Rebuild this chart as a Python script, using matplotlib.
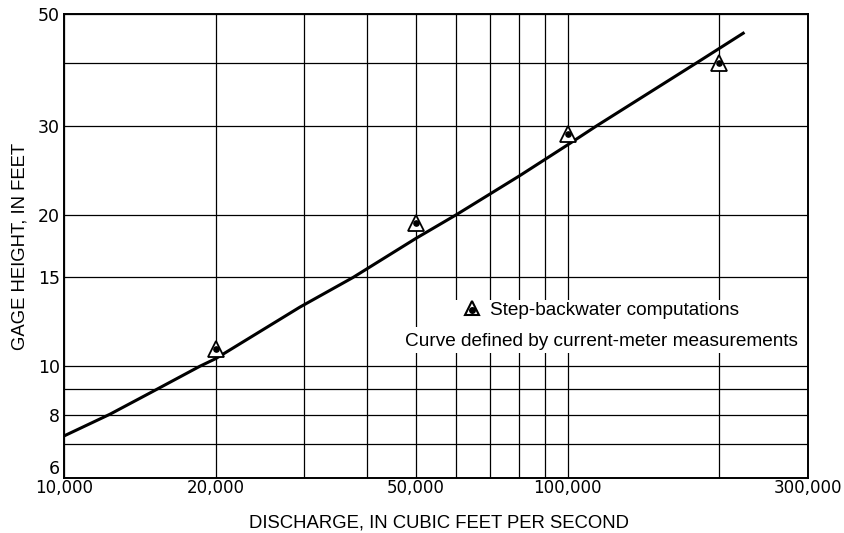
import matplotlib.pyplot as plt
import matplotlib.ticker as mticker
from matplotlib.patches import Rectangle

plt.rcParams["font.family"] = ["Liberation Sans", "DejaVu Sans"]

# Rating curve defined by current-meter measurements (discharge, gage height).
curve_q = [10000, 12340, 15040, 18620, 20000, 29400, 37480, 50000,
           60200, 80400, 100000, 114200, 180300, 223100]
curve_h = [7.27, 8.03, 8.92, 10.0, 10.35, 13.1, 15.0, 17.94,
           20.0, 23.9, 27.5, 30.0, 40.0, 45.8]

# Step-backwater computed points.
step_q = [20000, 50000, 100000, 200000]
step_h = [10.8, 19.26, 28.9, 39.9]

x_ticks = [10000, 20000, 50000, 100000, 300000]
x_tick_labels = ["10,000", "20,000", "50,000", "100,000", "300,000"]
x_grid = [30000, 40000, 60000, 70000, 80000, 90000, 200000]
y_ticks = [6, 8, 10, 15, 20, 30, 50]
y_tick_labels = ["6", "8", "10", "15", "20", "30", "50"]
y_grid = [7, 9, 40]

fig = plt.figure(figsize=(8.45, 5.33), dpi=100)
ax = fig.add_axes([0.0757, 0.1032, 0.8805, 0.8705])
ax.set_xscale("log")
ax.set_yscale("log")
ax.set_xlim(10000, 300000)
ax.set_ylim(6, 50)

ax.set_xticks(x_ticks)
ax.set_xticklabels(x_tick_labels, family="DejaVu Sans", fontsize=12)
ax.set_xticks(x_grid, minor=True)
ax.xaxis.set_minor_formatter(mticker.NullFormatter())
ax.set_yticks(y_ticks)
ax.set_yticklabels(y_tick_labels, family="DejaVu Sans", fontsize=12.5)
ax.set_yticks(y_grid, minor=True)
ax.yaxis.set_minor_formatter(mticker.NullFormatter())
ax.tick_params(which="both", length=0)
ax.tick_params(axis="x", pad=1)
ax.tick_params(axis="y", pad=3)
# keep the bottom "6" clear of the "10,000" label
ax.get_yticklabels()[0].set_va("bottom")
ax.grid(which="both", color="black", linewidth=0.9)
for s in ax.spines.values():
    s.set_linewidth(1.4)
    s.set_zorder(6)

ax.plot(curve_q, curve_h, color="black", linewidth=2.2, zorder=3)
ax.plot(step_q, step_h, linestyle="none", marker="^", markersize=11,
        markerfacecolor="white", markeredgecolor="black", markeredgewidth=1.3, zorder=4)
ax.plot(step_q, step_h, linestyle="none", marker="o", markersize=3.8,
        color="black", zorder=5)

# Explanation block: white patches knock the grid out behind the two lines
ax.add_patch(Rectangle((0.503, 0.3254), 0.497, 0.0582, transform=ax.transAxes,
                       facecolor="white", edgecolor="none", zorder=2))
ax.add_patch(Rectangle((0.449, 0.2694), 0.551, 0.0560, transform=ax.transAxes,
                       facecolor="white", edgecolor="none", zorder=2))
ax.text(0.5726, 0.362, "Step-backwater computations", transform=ax.transAxes,
        fontsize=13.7, va="center", ha="left", zorder=6)
ax.text(0.4583, 0.294, "Curve defined by current-meter measurements",
        transform=ax.transAxes, fontsize=13.7, va="center", ha="left", zorder=6)
ax.plot([0.549], [0.366], transform=ax.transAxes, marker="^", markersize=10.5,
        markerfacecolor="white", markeredgecolor="black", markeredgewidth=1.5,
        linestyle="none", zorder=7)
ax.plot([0.549], [0.362], transform=ax.transAxes, marker="o", markersize=4,
        color="black", linestyle="none", zorder=8)

ax.set_xlabel("DISCHARGE, IN CUBIC FEET PER SECOND", fontsize=13.3)
ax.set_ylabel("GAGE HEIGHT, IN FEET", fontsize=13.3)
ax.xaxis.set_label_coords(0.504, -0.078)
ax.yaxis.set_label_coords(-0.048, 0.5)

fig.savefig("out.png", dpi=100)
